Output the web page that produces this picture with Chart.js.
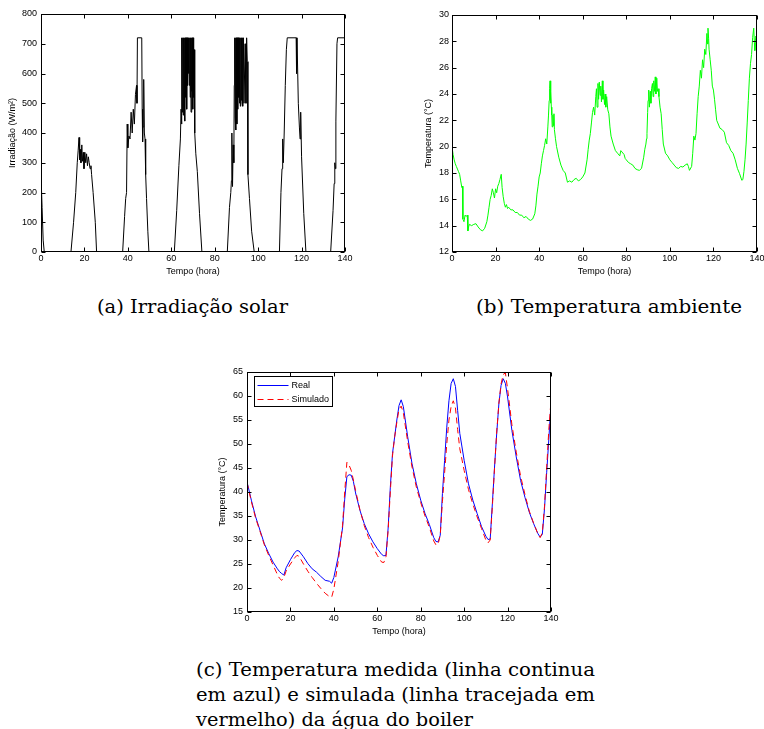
<!DOCTYPE html>
<html>
<head>
<meta charset="utf-8">
<script src="https://cdn.jsdelivr.net/npm/chart.js@4.4.0/dist/chart.umd.min.js"></script>
<style>
html,body{margin:0;padding:0;background:#fff;width:764px;height:729px;overflow:hidden;position:relative}
canvas{position:absolute}
.cap{position:absolute;font-family:"DejaVu Serif",serif;font-size:19px;line-height:25px;color:#000;white-space:nowrap;transform-origin:0 0}
</style>
</head>
<body>
<canvas id="chartA" width="370" height="282" style="left:0px;top:0px;width:370px;height:282px"></canvas>
<canvas id="chartB" width="380" height="282" style="left:400px;top:0px;width:380px;height:282px"></canvas>
<canvas id="chartC" width="370" height="282" style="left:200px;top:360px;width:370px;height:282px"></canvas>

<div class="cap" data-w="191" style="left:97px;top:294px">(a) Irradiação solar</div>
<div class="cap" data-w="266" style="left:476px;top:294px">(b) Temperatura ambiente</div>
<div class="cap" data-w="399" style="left:196px;top:657px">(c) Temperatura medida (linha continua</div>
<div class="cap" data-w="399" style="left:196px;top:682px">em azul) e simulada (linha tracejada em</div>
<div class="cap" data-w="277" style="left:196px;top:707px">vermelho) da água do boiler</div>

<script>
// ---------------- DATA ----------------
const hourTicks = [0, 20, 40, 60, 80, 100, 120, 140];
const irrTicks = [0, 100, 200, 300, 400, 500, 600, 700, 800];
const ambTicks = [12, 14, 16, 18, 20, 22, 24, 26, 28, 30];
const boilerTicks = [15, 20, 25, 30, 35, 40, 45, 50, 55, 60, 65];

// (a) Irradiação solar (W/m²) vs tempo (hora)
const irrHours = [
  0,0.5,1,1.5,13.8,15,16,16.7,17.1,17.5,17.8,18.1,18.4,18.8,19.1,19.5,19.8,20.2,20.6,21,21.4,21.8,22.2,22.6,23,23.3,24,25,25.6,37.6,
  38.5,39,39.4,39.7,40,40.5,41,41.5,42,42.5,43,43.5,44,44.2,44.4,46.4,46.6,46.8,47,47.3,47.6,47.9,48.2,48.6,49.2,49.7,61.4,
  62.5,63.5,64.2,64.5,64.7,64.9,65.1,65.3,65.5,65.7,65.9,66.1,66.3,66.5,66.7,66.9,67.1,67.3,67.5,67.7,67.9,68.1,68.3,68.5,68.7,68.9,69.1,69.3,69.5,69.7,69.9,70.1,70.3,70.6,70.8,71.3,72,73,74.1,85.8,
  86.8,87.4,87.7,87.9,88.2,88.5,88.8,89,89.2,89.4,89.6,89.8,90,90.2,90.4,90.6,90.8,91,91.2,91.4,91.6,91.8,92,92.2,92.4,92.6,92.8,93,93.2,93.5,94,94.4,94.7,95,95.3,96,97,98.2,109.8,
  110.5,111,111.3,111.6,112,112.5,113,113.4,117.5,117.7,117.9,118.2,118.5,119,119.3,119.6,120,121,122,133.4,
  134.5,135,135.3,135.6,135.8,136.3,136.6,140
];
const irrWm2 = [
  260,150,40,0,0,100,200,300,340,385,310,345,300,360,305,335,280,335,300,330,290,320,300,280,290,260,200,100,0,0,
  120,180,200,430,350,390,380,470,400,480,430,530,560,500,720,720,480,370,420,580,400,380,260,180,70,0,0,
  140,290,380,480,430,720,470,720,460,720,500,720,440,720,520,720,480,720,560,720,600,720,560,720,520,720,470,720,540,720,480,720,520,680,400,330,270,130,0,0,
  150,200,240,400,220,360,300,560,720,450,720,410,720,430,720,480,720,520,720,500,720,490,720,510,720,500,720,490,720,500,700,500,720,640,260,180,70,0,0,
  200,280,380,300,400,560,680,720,720,600,720,720,500,420,380,470,320,130,0,0,
  140,230,300,280,440,700,720,720
];

// (b) Temperatura ambiente (°C)
const ambHours = [
  0,0.5,1,1.5,2,2.5,3,3.5,4,4.5,
  4.8,5,5.5,6,6.5,7,7.3,7.6,8,9,
  10,11,12,13,14,15,16,16.5,17,17.5,
  18,18.5,19,19.5,20,20.5,21,21.5,22,22.6,
  23,23.5,24,24.5,25,25.5,26,27,28,29,
  30,31,32,33,34,35,36,37,38,38.5,
  39,39.5,40,40.5,41,41.5,42,42.5,43,43.5,
  44,44.3,44.6,44.8,45,45.2,45.4,45.6,45.8,46,
  46.3,46.6,46.8,47,47.5,48,49,50,51,52,
  53,54,55,56,57,58,59,60,61,62,
  62.5,63,63.5,64,64.5,65,65.5,66,66.3,66.6,
  67,67.3,67.6,68,68.3,68.6,69,69.3,69.6,70,
  70.3,70.6,71,71.5,72,72.5,73,74,75,76,
  77,77.5,78,79,79.5,80,81,82,83,84,
  85,86,87,88,88.5,89,89.3,89.5,89.8,90,
  90.3,90.6,91,91.3,91.6,92,92.3,92.6,93,93.3,
  93.6,94,94.3,94.6,95,95.5,96,96.5,97,98,
  99,100,101,102,103,104,105,106,107,108,
  108.5,109,110,110.5,111,111.5,112,112.5,113,113.5,
  114,114.5,115,115.5,116,116.5,117,117.3,117.5,117.8,
  118,118.5,119,119.5,120,120.5,121,121.5,122,123,
  124,125,126,127,128,129,130,131,132,133,
  133.5,134,134.5,135,135.5,136,136.5,137,137.5,138,
  138.5,138.8,139,139.3,139.5,139.8,140
];
const ambTemp = [
  20.0,19.4,19.0,18.7,18.5,18.3,18.1,17.9,17.4,16.9,
  17.0,14.5,14.3,14.8,14.7,14.8,13.6,13.9,14.1,14.0,
  14.1,14.15,13.9,13.7,13.6,13.8,14.3,14.8,15.4,16.0,
  16.3,16.8,16.5,16.1,16.8,16.5,17.0,17.2,17.5,17.9,
  16.9,16.2,15.7,15.4,15.6,15.3,15.4,15.2,15.2,15.0,
  15.0,14.8,14.8,14.6,14.7,14.5,14.4,14.5,14.9,15.5,
  16.4,17.0,17.7,18.0,18.7,19.3,19.7,20.1,20.6,20.2,
  21.5,22.4,23.5,24.4,25.0,23.3,24.2,23.0,22.4,21.5,
  22.4,21.6,22.5,21.3,20.6,20.0,19.2,18.6,18.2,18.0,
  17.3,17.4,17.3,17.5,17.6,17.4,17.5,17.7,18.0,19.0,
  19.8,20.5,21.0,21.8,22.6,23.0,22.4,23.8,24.4,23.0,
  24.8,23.6,24.9,23.9,24.6,23.4,25.0,23.6,24.3,23.2,
  24.0,23.0,23.8,22.8,22.5,21.5,20.8,20.2,19.7,19.5,
  19.3,19.7,19.6,19.4,19.1,19.0,18.8,18.7,18.6,18.35,
  18.25,18.2,18.35,19.2,19.8,20.2,20.6,21.0,22.6,23.5,
  24.3,23.0,24.2,23.3,24.4,24.8,23.8,25.0,24.2,25.3,
  24.0,25.2,24.2,24.4,23.8,23.0,22.5,21.3,20.2,19.5,
  19.3,19.0,18.8,18.6,18.4,18.35,18.5,18.45,18.6,18.7,
  18.5,18.2,18.5,19.5,20.8,20.5,21.0,22.5,23.8,24.6,
  25.8,25.2,26.6,26.0,27.4,27.0,28.6,27.8,29.0,28.2,
  27.4,26.6,25.8,24.6,24.3,23.6,22.8,22.0,21.8,21.4,
  21.3,21.1,20.3,20.1,19.7,19.5,19.0,18.35,17.95,17.45,
  17.5,18.1,19.0,20.2,21.8,23.5,25.2,26.3,27.0,28.3,
  29.0,27.9,27.3,28.2,28.4,27.0,27.4
];

// (c) Temperatura da água do boiler (°C): Real e Simulado
const boilerHours = [
  0,2,4,6,8,10,12,14,15,16,
  17,18,20,22,23,24,26,28,30,32,
  34,36,38,39,40,42,44,45,46,47,
  48,49,50,52,54,56,58,60,62,63,
  64,65,66,67,68,69,70,71,72,74,
  76,78,80,82,84,86,87,88,89,90,
  91,92,93,94,95,96,97,98,100,102,
  104,106,108,110,111,112,113,114,115,116,
  117,118,119,120,122,124,126,128,130,132,
  134,135,136,137,138,139,140
];
const realTemp = [
  42.1,38.3,34.8,32.0,29.2,27.2,25.4,24.0,23.4,23.0,
  22.7,24.2,25.9,27.4,27.8,27.7,26.5,25.1,24.0,23.3,
  22.4,21.6,21.4,21.0,22.2,26.5,32.5,38.5,43.2,43.6,
  43.5,42.2,39.8,36.2,33.4,31.3,29.6,28.2,27.0,26.7,
  26.8,32.5,41.0,48.0,51.5,55.0,58.0,59.2,57.8,51.5,
  45.9,41.7,38.3,35.5,33.2,30.5,29.7,29.6,31.0,39.7,
  46.6,53.5,59.0,62.6,63.6,62.0,57.0,52.2,46.6,41.7,
  38.3,35.5,32.8,30.8,30.1,30.2,37.6,45.2,52.2,58.4,
  62.2,63.6,62.6,59.8,52.8,47.3,42.4,38.9,35.8,33.4,
  31.3,30.6,31.2,36.5,44.0,51.0,58.5
];
const simTemp = [
  42.0,38.0,34.5,31.8,29.0,26.8,24.8,22.8,22.0,21.6,
  22.2,23.5,25.0,26.3,26.8,26.6,25.0,23.5,22.2,21.0,
  19.9,18.9,18.2,18.1,19.8,25.5,33.0,40.0,46.2,45.6,
  44.5,42.5,40.3,36.3,33.0,30.5,28.5,26.8,25.4,25.3,
  26.5,32.0,40.0,47.5,51.5,54.5,57.2,57.9,56.5,50.5,
  45.2,41.0,37.8,35.0,32.6,29.8,29.0,29.1,31.0,38.0,
  44.0,50.0,55.0,57.8,59.0,57.5,53.0,49.0,44.5,40.5,
  37.5,34.8,32.4,30.0,29.4,30.0,37.0,45.0,52.5,58.5,
  62.5,64.5,64.8,61.5,54.0,48.3,43.3,39.5,36.0,33.5,
  31.2,30.5,31.5,37.0,45.0,53.0,59.0
];

// ---------------- HELPERS ----------------
const FONT = '"Liberation Sans", Arial, sans-serif';
const pts = (xs, ys) => xs.map((x, i) => ({x: x, y: ys[i]}));

const matlabFrame = {
  id: 'matlabFrame',
  afterDatasetsDraw(chart) {
    const {ctx, chartArea: a, scales: {x, y}} = chart;
    ctx.save();
    ctx.strokeStyle = '#000';
    ctx.lineWidth = 1;
    const L = Math.round(a.left) + 0.5, R = Math.round(a.right) - 0.5;
    const T = Math.round(a.top) + 0.5, B = Math.round(a.bottom) - 0.5;
    ctx.strokeRect(L, T, R - L, B - T);
    const len = 4;
    ctx.beginPath();
    x.ticks.forEach(t => {
      const p = Math.round(x.getPixelForValue(t.value)) + 0.5;
      ctx.moveTo(p, B); ctx.lineTo(p, B - len);
      ctx.moveTo(p, T); ctx.lineTo(p, T + len);
    });
    y.ticks.forEach(t => {
      const p = Math.round(y.getPixelForValue(t.value)) + 0.5;
      ctx.moveTo(L, p); ctx.lineTo(L + len, p);
      ctx.moveTo(R, p); ctx.lineTo(R - len, p);
    });
    ctx.stroke();
    ctx.restore();
  }
};

const boxLegend = {
  id: 'boxLegend',
  afterDraw(chart, args, o) {
    if (!o || !o.show) return;
    const {ctx, chartArea: a} = chart;
    const x0 = Math.round(a.left + o.dx) + 0.5, y0 = Math.round(a.top + o.dy) + 0.5;
    ctx.save();
    ctx.fillStyle = '#fff';
    ctx.fillRect(x0, y0, o.w, o.h);
    ctx.strokeStyle = '#000';
    ctx.lineWidth = 1;
    ctx.strokeRect(x0, y0, o.w, o.h);
    ctx.font = '9px ' + FONT;
    ctx.textBaseline = 'middle';
    chart.data.datasets.forEach((ds, i) => {
      const cy = Math.round(y0 + o.rowTop + i * o.rowH) + 0.5;
      ctx.strokeStyle = ds.borderColor;
      ctx.setLineDash(ds.borderDash || []);
      ctx.beginPath();
      ctx.moveTo(x0 + o.lineX0, cy);
      ctx.lineTo(x0 + o.lineX1, cy);
      ctx.stroke();
      ctx.setLineDash([]);
      ctx.fillStyle = '#000';
      ctx.fillText(ds.label, x0 + o.textX, cy);
    });
    ctx.restore();
  }
};

function xAxis(ticks, h) {
  return {
    type: 'linear', position: 'bottom',
    min: ticks[0], max: ticks[ticks.length - 1],
    afterBuildTicks: s => { s.ticks = ticks.map(v => ({value: v})); },
    afterFit: s => { s.height = h; },
    grid: {display: false, drawTicks: false},
    border: {display: false},
    ticks: {padding: 1, maxRotation: 0, autoSkip: false, color: '#000', font: {family: FONT, size: 9}},
    title: {display: true, text: 'Tempo (hora)', color: '#000', font: {family: FONT, size: 9}, padding: {top: 0, bottom: 4.9}}
  };
}
function yAxis(ticks, w, title, titlePad, tickPad) {
  return {
    type: 'linear', position: 'left',
    min: ticks[0], max: ticks[ticks.length - 1],
    afterBuildTicks: s => { s.ticks = ticks.map(v => ({value: v})); },
    afterFit: s => { s.width = w; },
    grid: {display: false, drawTicks: false},
    border: {display: false},
    ticks: {padding: tickPad, autoSkip: false, color: '#000', font: {family: FONT, size: 9}},
    title: {display: true, text: title, color: '#000', font: {family: FONT, size: 9}, padding: {top: titlePad, bottom: 0}}
  };
}
function baseOptions(padding, xs, ys, legendOpts) {
  return {
    responsive: false,
    animation: false,
    devicePixelRatio: 1,
    layout: {padding: padding},
    scales: {x: xs, y: ys},
    plugins: {
      legend: {display: false},
      tooltip: {enabled: false},
      boxLegend: legendOpts || {show: false}
    },
    elements: {point: {radius: 0}, line: {tension: 0}}
  };
}

// (a)
new Chart(document.getElementById('chartA'), {
  type: 'line',
  data: {datasets: [{
    label: 'Irradiação', data: pts(irrHours, irrWm2),
    borderColor: '#000', borderWidth: 1, pointRadius: 0, fill: false
  }]},
  options: baseOptions({left: 0, top: 14, right: 25, bottom: 0},
    xAxis(hourTicks, 30), yAxis(irrTicks, 41, 'Irradiação (W/m²)', 7.6, 4)),
  plugins: [matlabFrame, boxLegend]
});

// (b)
new Chart(document.getElementById('chartB'), {
  type: 'line',
  data: {datasets: [{
    label: 'Ambiente', data: pts(ambHours, ambTemp),
    borderColor: '#00ff00', borderWidth: 1, pointRadius: 0, fill: false
  }]},
  options: baseOptions({left: 0, top: 15, right: 23, bottom: 0},
    xAxis(hourTicks, 30), yAxis(ambTicks, 52, 'Temperatura (°C)', 23.6, 3)),
  plugins: [matlabFrame, boxLegend]
});

// (c)
new Chart(document.getElementById('chartC'), {
  type: 'line',
  data: {datasets: [
    {label: 'Real', data: pts(boilerHours, realTemp), borderColor: '#0000ff', borderWidth: 1, pointRadius: 0, fill: false, order: 2},
    {label: 'Simulado', data: pts(boilerHours, simTemp), borderColor: '#ff0000', borderDash: [6, 4], borderWidth: 1, pointRadius: 0, fill: false, order: 1}
  ]},
  options: baseOptions({left: 0, top: 12, right: 19, bottom: 0},
    xAxis(hourTicks, 30), yAxis(boilerTicks, 47, 'Temperatura (°C)', 17.6, 4),
    {show: true, dx: 7, dy: 4, w: 78, h: 30, rowTop: 8, rowH: 14, lineX0: 3, lineX1: 34, textX: 37}),
  plugins: [matlabFrame, boxLegend]
});

// captions: stretch to the reference caption widths
function fitCaps() {
  document.querySelectorAll('.cap').forEach(el => {
    el.style.transform = 'none';
    const w = el.getBoundingClientRect().width;
    const t = +el.dataset.w;
    if (w > 0) el.style.transform = 'scaleX(' + (t / w) + ')';
  });
}
fitCaps();
if (document.fonts && document.fonts.ready) document.fonts.ready.then(fitCaps);
</script>
</body>
</html>
